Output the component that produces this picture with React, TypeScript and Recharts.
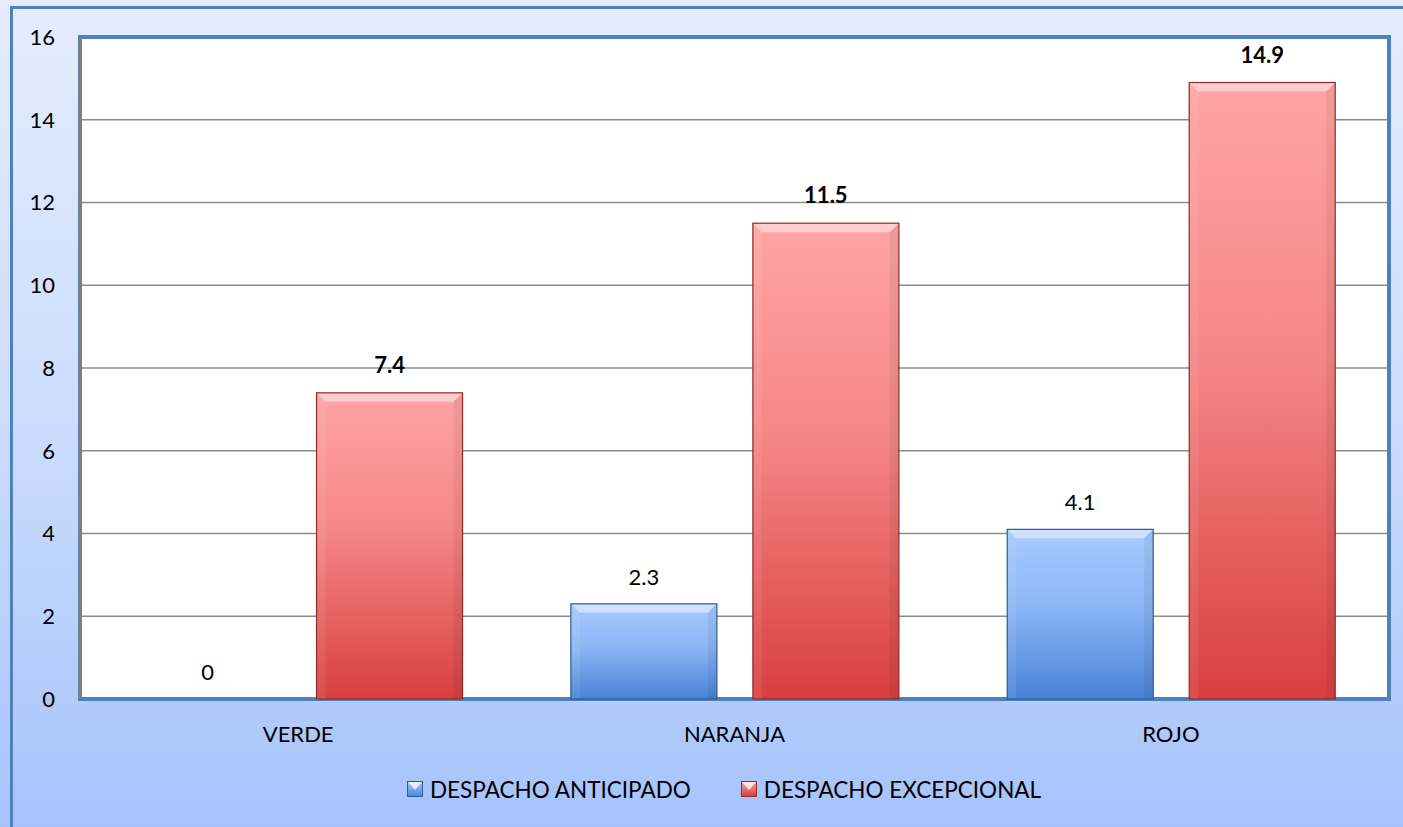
import React from "react";
import { BarChart, Bar, XAxis, YAxis, CartesianGrid, LabelList, Legend, ReferenceArea } from "recharts";

const categories = ["VERDE", "NARANJA", "ROJO"];
const anticipado = [0, 2.3, 4.1];
const excepcional = [7.4, 11.5, 14.9];
const yTicks = [0, 2, 4, 6, 8, 10, 12, 14, 16];
const seriesNames = ["DESPACHO ANTICIPADO", "DESPACHO EXCEPCIONAL"];

const data = categories.map((c, i) => ({ name: c, a: anticipado[i], e: excepcional[i] }));

const FONT = "Lato, 'Open Sans', sans-serif";

const BevelBar = (props: any) => {
  const { x, y, width, height, gradId, edge } = props;
  if (!height || height <= 0) return null;
  const b = Math.min(9, height / 2);
  return (
    <g>
      <rect x={x} y={y} width={width} height={height} fill={`url(#${gradId})`} />
      <polygon
        points={`${x},${y} ${x + width},${y} ${x + width - b},${y + b} ${x + b},${y + b}`}
        fill="#ffffff"
        fillOpacity={0.45}
      />
      <polygon
        points={`${x},${y} ${x + b},${y + b} ${x + b},${y + height} ${x},${y + height}`}
        fill="#ffffff"
        fillOpacity={0.08}
      />
      <polygon
        points={`${x + width},${y} ${x + width - b},${y + b} ${x + width - b},${y + height} ${x + width},${y + height}`}
        fill="#000000"
        fillOpacity={0.06}
      />
      <rect x={x} y={y} width={width} height={height} fill="none" stroke={edge} strokeWidth={1.2} />
    </g>
  );
};

const LegendContent = () => {
  const items = [
    { label: seriesNames[0], grad: "legA", edge: "#2c5a96" },
    { label: seriesNames[1], grad: "legE", edge: "#9a2b2b" },
  ];
  return (
    <div style={{ height: 50, display: "flex", justifyContent: "flex-start", alignItems: "center", paddingLeft: 407, gap: 50, fontFamily: FONT, fontSize: 22.5, color: "#000" }}>
      {items.map((it) => (
        <div key={it.label} style={{ display: "flex", alignItems: "center" }}>
          <svg width={16} height={18} style={{ marginRight: 7 }}>
            <rect x={0.5} y={1.5} width={15} height={15} fill={`url(#${it.grad})`} stroke={it.edge} strokeWidth={1} />
            <polygon points="1,2 15,2 8,10" fill="#ffffff" fillOpacity={0.75} />
          </svg>
          <span>{it.label}</span>
        </div>
      ))}
    </div>
  );
};

export default function App() {
  return (
    <div style={{ position: "absolute", left: 0, top: 0, width: 1403, height: 827, overflow: "hidden", background: "linear-gradient(180deg, #e4edfd 0%, #c9dbfc 55%, #a6c3fb 100%)" }}>
      <div style={{ position: "absolute", left: 10, top: 6, width: 1500, height: 900, borderLeft: "3px solid #4f81bd", borderTop: "3px solid #4f81bd" }} />
      <svg width={0} height={0} style={{ position: "absolute" }}>
        <defs>
          <linearGradient id="legA" x1="0" y1="0" x2="0" y2="1">
            <stop offset="0%" stopColor="#a6c9ff" />
            <stop offset="100%" stopColor="#4a86d6" />
          </linearGradient>
          <linearGradient id="legE" x1="0" y1="0" x2="0" y2="1">
            <stop offset="0%" stopColor="#ffa3a3" />
            <stop offset="100%" stopColor="#d63e3e" />
          </linearGradient>
        </defs>
      </svg>
      <div style={{ position: "absolute", left: 0, top: 0 }}>
        <BarChart
          width={1403}
          height={827}
          data={data}
          margin={{ top: 37, right: 14, left: 0, bottom: 13 }}
          barCategoryGap="12.5%"
          barGap={36}
        >
          <defs>
            <linearGradient id="gradA" x1="0" y1="0" x2="0" y2="1">
              <stop offset="0%" stopColor="#a8caff" />
              <stop offset="45%" stopColor="#8cb6f5" />
              <stop offset="100%" stopColor="#4883d6" />
            </linearGradient>
            <linearGradient id="gradE" x1="0" y1="0" x2="0" y2="1">
              <stop offset="0%" stopColor="#ffa4a4" />
              <stop offset="45%" stopColor="#f58686" />
              <stop offset="100%" stopColor="#d83f3f" />
            </linearGradient>
          </defs>
          <CartesianGrid vertical={false} stroke="#8c8c8c" strokeWidth={1.5} fill="#ffffff" />
          <XAxis
            dataKey="name"
            height={65}
            axisLine={false}
            tickLine={false}
            tickSize={0}
            tickMargin={27}
            tick={{ fontFamily: FONT, fontSize: 22, fill: "#000" }}
          />
          <YAxis
            width={80}
            domain={[0, 16]}
            ticks={yTicks}
            interval={0}
            axisLine={{ stroke: "#7f7f7f", strokeWidth: 3 }}
            tickLine={false}
            tickSize={0}
            tickMargin={25}
            tick={{ fontFamily: FONT, fontSize: 22, fill: "#000" }}
          />
          <ReferenceArea y1={0} y2={16} fill="none" stroke="#4f81bd" strokeWidth={4} ifOverflow="visible" />
          <Bar dataKey="a" name={seriesNames[0]} isAnimationActive={false} shape={(p: any) => <BevelBar {...p} gradId="gradA" edge="#2c5a96" />}>
            <LabelList dataKey="a" position="top" offset={19} style={{ fontFamily: FONT, fontSize: 22, fill: "#000" }} />
          </Bar>
          <Bar dataKey="e" name={seriesNames[1]} isAnimationActive={false} shape={(p: any) => <BevelBar {...p} gradId="gradE" edge="#8e2a2a" />}>
            <LabelList dataKey="e" position="top" offset={20} style={{ fontFamily: FONT, fontSize: 22, fontWeight: 700, fill: "#000" }} />
          </Bar>
          <Legend verticalAlign="bottom" height={50} content={() => <LegendContent />} />
        </BarChart>
      </div>
    </div>
  );
}
